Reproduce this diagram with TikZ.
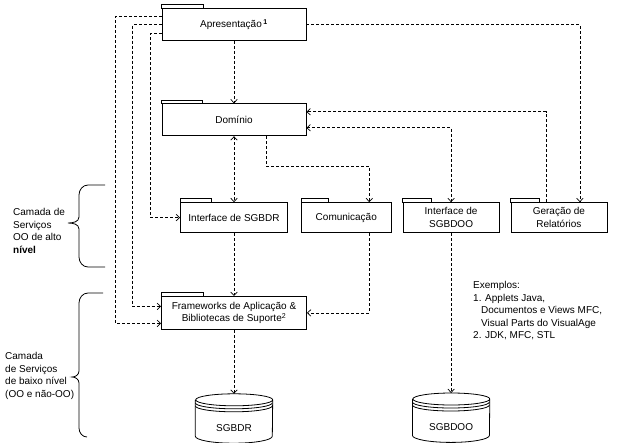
\documentclass[tikz,border=0pt]{standalone}
\usepackage{fontspec}
\setmainfont{Liberation Sans}
\usetikzlibrary{arrows.meta,positioning,calc}

\begin{document}
\begin{tikzpicture}[x=1pt, y=1pt, node distance=10pt, >={Straight Barb[length=3.5pt,width=6.5pt]},
    font=\fontsize{10}{12.5}\selectfont,
    pacote/.style={draw, rectangle, line width=0.8pt, inner sep=0pt, align=center},
    grande/.style={pacote, minimum width=144pt, minimum height=32pt},
    pequeno/.style={pacote, minimum width=96pt, minimum height=30pt},
    banco/.style={rectangle, minimum width=77pt, minimum height=49pt, inner sep=0pt, text height=25pt, text depth=0pt},
    dep/.style={dash pattern=on 3pt off 2pt, line width=0.7pt},
    chave/.style={line width=0.8pt},
    nota/.style={align=left, inner sep=0pt, anchor=west}]
    \useasboundingbox (0,0) rectangle (639,-442);

    \node [grande] (apres) at (234,-24.5) {Apresentação\,\textsuperscript{\textbf{1}}};
    \node [grande, below=62.5pt of apres] (dom) {Domínio};
    \node [pequeno, minimum width=107pt, below=66pt of dom] (ifr) {Interface de SGBDR};
    \node [pequeno, minimum width=90pt, right=13pt of ifr] (com) {Comunicação};
    \node [pequeno, right=11pt of com] (ifo) {Interface de\\SGBDOO};
    \node [pequeno, right=11pt of ifo] (ger) {Geração de\\Relatórios};
    \node [grande, minimum width=145pt, minimum height=33pt, below=63pt of ifr] (fw) {Frameworks de Aplicação \&\\Bibliotecas de Suporte\textsuperscript{2}};
    \node [banco, below=64pt of fw] (sgbdr) {SGBDR};
    \node [banco, below=160pt of ifo] (sgbdoo) {SGBDOO};

    % abas dos pacotes
    \foreach \n/\w in {apres/42,dom/41,fw/42,ifr/31,com/27,ifo/29,ger/29}
        \draw [line width=0.8pt] (\n.north west) rectangle ++(\w,3.5);

    % bancos de dados
    \foreach \b in {sgbdr,sgbdoo} {
        \draw [line width=0.8pt] ([yshift=-6pt]\b.north west) -- ([yshift=7pt]\b.south west)
            arc [start angle=180, end angle=360, x radius=38.5pt, y radius=7pt]
            -- ([yshift=-6pt]\b.north east)
            arc [start angle=0, end angle=360, x radius=38.5pt, y radius=6pt];
        \draw [line width=0.8pt] ([yshift=-9pt]\b.north west) arc [start angle=180, end angle=360, x radius=38.5pt, y radius=6pt];
        \draw [line width=0.8pt] ([yshift=-12pt]\b.north west) arc [start angle=180, end angle=360, x radius=38.5pt, y radius=6pt];
    }

    % dependencias
    \draw [dep, ->] ([yshift=8.5pt]apres.west) -- ++(-46,0) |- ([yshift=-10.5pt]fw.west);
    \draw [dep, ->] (apres.west) -- ++(-29,0) |- ([yshift=6.5pt]fw.west);
    \draw [dep, ->] ([yshift=-8.5pt]apres.west) -- ++(-11,0) |- (ifr.west);
    \draw [dep, ->] (apres.east) -| ([xshift=21pt]ger.north);
    \draw [dep, ->] (apres) -- (dom);
    \draw [dep, <->] (dom) -- (ifr);
    \draw [dep, ->] ([xshift=32pt]dom.south) -- ++(0,-30) -| ([xshift=23pt]com.north);
    \draw [dep, <->] ([yshift=-8pt]dom.east) -| (ifo.north);
    \draw [dep, ->] ([xshift=-13pt]ger.north) |- ([yshift=8pt]dom.east);
    \draw [dep, ->] (ifr) -- (fw);
    \draw [dep, ->] ([xshift=23pt]com.south) |- (fw.east);
    \draw [dep, ->] (ifo) -- (sgbdoo);
    \draw [dep, ->] (fw) -- (sgbdr);

    % camadas
    \draw [chave] (105,-185) -- (88,-185) to [out=180, in=90] (79,-195) -- (79,-217)
        to [out=-90, in=0] (68,-223) to [out=0, in=90] (79,-229) -- (79,-257)
        to [out=-90, in=180] (88,-267) -- (105,-267);
    \draw [chave] (103,-293) -- (88,-293) to [out=180, in=90] (79,-303) -- (79,-371)
        to [out=-90, in=0] (72,-377) to [out=0, in=90] (79,-383) -- (79,-428)
        to [out=-90, in=180] (87,-437);
    \node [nota] (altonivel) at (13,-231) {Camada de\\Serviços\\OO de alto\\\textbf{nível}};
    \node [nota] (baixonivel) at (5,-376) {Camada\\de Serviços\\de baixo nível\\(OO e não-OO)};
    \node [nota] (exemplos) at (473,-311) {Exemplos:\\1. Applets Java,\\\hspace*{8pt}Documentos e Views MFC,\\\hspace*{8pt}Visual Parts do VisualAge\\2. JDK, MFC, STL};
\end{tikzpicture}
\end{document}
